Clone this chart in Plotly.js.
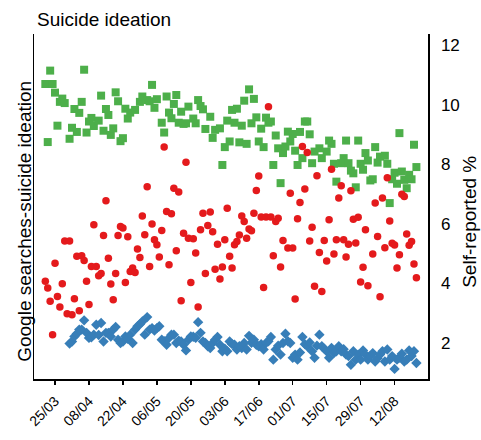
<!DOCTYPE html>
<html>
<head>
<meta charset="utf-8">
<script src="https://cdn.plot.ly/plotly-3.0.1.min.js"></script>
<style>html,body{margin:0;padding:0;background:#fff;}#chart{width:481px;height:440px;}</style>
</head>
<body>
<div id="chart"></div>
<script>
// Day offsets relative to 25/03/2020
const greenDays = [-4,-3,-2,-1,0,1,2,3,4,6,7,8,9,10,11,12,13,14,15,16,18,19,20,21,22,23,24,25,26,27,28,29,30,31,33,35,36,38,39,40,41,42,44,45,46,47,48,49,50,51,52,53,54,55,57,58,59,60,61,62,64,65,66,68,69,70,71,72,73,74,75,76,77,78,79,80,81,82,83,84,85,86,87,88,89,90,91,92,93,94,95,96,97,98,99,100,101,102,103,104,105,106,107,109,110,112,113,114,115,116,118,119,120,121,122,123,124,125,126,127,128,129,130,131,132,133,134,136,137,138,139,140,141,142,143,144,145,146,147,148,149];
const greenVals = [10.69,8.74,11.14,10.69,10.40,9.29,10.09,10.20,10.05,8.85,9.22,9.85,9.08,9.72,10.09,11.17,9.06,9.43,9.55,9.28,9.46,10.30,9.12,9.85,9.65,8.98,9.20,10.41,10.11,8.77,8.87,9.86,9.53,9.73,9.82,10.09,10.27,10.15,10.11,10.66,9.89,10.18,9.39,9.06,10.27,9.73,9.54,10.02,10.32,9.39,9.76,9.35,9.37,9.93,9.53,9.37,10.15,9.95,9.84,9.18,9.59,8.88,9.15,9.20,7.97,8.57,9.46,8.76,9.82,9.39,9.86,8.73,9.29,10.13,8.68,10.51,9.37,10.19,9.57,8.76,9.19,8.57,9.56,9.39,9.43,7.97,8.96,8.53,7.36,8.37,8.59,9.09,8.76,9.01,8.45,7.97,9.08,8.20,9.43,9.43,9.00,8.03,8.42,8.53,8.20,8.42,8.79,8.68,8.01,7.41,8.03,8.20,8.79,8.03,7.78,7.69,7.22,8.79,8.01,7.81,8.37,8.12,7.45,7.49,8.57,8.05,8.25,8.28,8.01,6.69,7.49,7.71,7.34,9.04,7.75,7.47,7.19,7.64,7.49,8.65,7.90];

const redDays = [-4,-3,-2,-1,0,1,2,3,4,5,6,7,8,9,10,11,12,13,14,15,16,17,18,19,20,21,22,23,24,25,26,27,28,29,30,31,32,33,34,35,36,37,38,39,40,41,42,43,44,45,46,47,48,49,50,51,52,53,54,55,56,57,58,59,60,61,62,63,64,65,66,67,68,69,70,71,72,73,74,75,76,77,78,79,80,81,82,83,84,85,86,87,88,89,90,91,92,93,94,96,97,98,99,100,101,102,103,104,105,106,107,108,109,110,111,112,113,114,115,116,117,118,119,120,121,122,123,124,125,126,127,128,129,131,132,133,134,135,136,137,138,139,140,141,142,143,144,145,146,147,148,149];
const redVals = [4.06,3.84,3.39,2.27,4.67,3.55,3.20,3.98,5.42,2.97,5.42,2.94,3.48,4.90,3.07,4.92,4.76,4.06,3.28,4.56,5.96,4.56,4.25,4.32,5.60,6.77,4.84,3.97,3.44,4.32,5.60,5.90,5.85,4.02,5.56,4.39,4.51,4.36,5.15,4.86,6.26,5.63,7.24,4.56,5.99,5.46,5.29,4.88,5.77,8.57,6.41,4.62,6.33,7.19,5.09,7.06,3.41,5.68,8.06,5.51,4.02,5.49,5.01,3.20,5.79,6.35,4.32,5.94,6.39,5.73,4.47,5.31,4.14,4.54,5.46,6.52,4.90,4.51,5.29,5.40,5.62,6.26,6.07,5.51,5.82,5.76,6.35,7.11,7.60,6.22,3.85,6.22,9.93,6.22,4.92,6.07,6.18,4.54,5.43,5.18,7.02,5.18,3.47,6.16,6.71,8.59,7.16,8.39,5.42,5.88,3.90,7.61,5.03,3.72,5.43,4.74,6.13,7.83,4.98,5.46,6.86,7.27,5.46,4.88,5.31,7.10,6.15,5.35,6.21,4.04,4.53,5.79,3.91,4.98,6.69,5.57,3.54,6.86,5.19,7.54,6.09,5.34,5.28,4.51,4.95,6.99,6.91,5.65,5.27,5.40,4.64,4.18];

const blueDays = [6,7,8,9,10,11,12,13,14,15,16,17,18,19,20,21,22,23,24,25,26,27,28,29,30,31,32,33,34,35,36,37,38,39,40,41,42,43,44,45,46,47,48,49,50,51,52,53,54,55,56,57,58,59,60,61,62,63,64,65,66,67,68,69,70,71,72,73,74,75,76,77,78,79,80,81,82,83,84,85,86,87,88,89,90,91,92,93,94,95,96,97,98,99,100,101,102,103,104,105,106,107,108,109,110,111,112,113,114,115,116,117,118,119,120,121,122,123,124,125,126,127,128,129,130,131,132,133,134,135,136,137,138,139,140,141,142,143,144,145,146,147,148,149];
const blueVals = [1.97,2.04,2.21,2.30,2.44,2.44,2.75,2.33,2.16,2.18,2.27,2.60,2.26,2.66,2.04,2.33,2.33,2.21,2.44,2.53,2.10,1.99,2.04,2.21,2.13,2.27,1.99,2.44,2.55,2.62,2.71,2.27,2.86,2.44,2.49,2.41,2.49,2.55,2.10,2.05,1.93,2.16,2.27,2.27,1.99,2.07,2.04,1.93,1.74,2.10,2.21,2.20,2.16,2.69,2.33,2.04,1.99,1.88,1.82,1.99,2.10,2.19,1.93,1.71,1.80,1.71,2.04,1.95,1.93,1.77,1.88,1.82,1.99,1.77,2.23,2.00,2.10,1.93,1.88,1.95,1.77,1.99,2.05,2.19,1.43,1.77,1.90,1.60,1.99,2.30,2.05,1.99,1.49,1.60,1.43,1.67,2.19,1.95,1.88,2.01,1.71,1.49,1.90,2.27,1.88,1.80,1.71,1.49,1.82,1.65,1.71,1.88,1.71,1.78,1.60,1.55,1.26,1.71,1.43,1.60,1.43,1.74,1.60,1.43,1.55,1.65,1.37,1.48,1.60,1.71,1.37,1.77,1.43,1.55,1.12,1.43,1.50,1.63,1.37,1.43,1.74,1.55,1.71,1.32];

const tickDates = ['2020-03-25','2020-04-08','2020-04-22','2020-05-06','2020-05-20','2020-06-03','2020-06-17','2020-07-01','2020-07-15','2020-07-29','2020-08-12'];
const tickLabels = ['25/03','08/04','22/04','06/05','20/05','03/06','17/06','01/07','15/07','29/07','12/08'];
const rightTicks = [2,4,6,8,10,12];
const leftTitle = 'Google searches-suicide ideation';
const rightTitle = 'Self-reported %';

function dayToDate(d){
  return new Date(Date.UTC(2020,2,25) + d*86400000).toISOString().slice(0,10);
}

const FONT = 'Liberation Sans, Arial, Helvetica, sans-serif';

const traces = [
  {x: greenDays.map(dayToDate), y: greenVals, type:'scatter', mode:'markers', yaxis:'y',
   marker:{symbol:'square', size:8, color:'#4DAF4A'}, hoverinfo:'skip'},
  {x: blueDays.map(dayToDate), y: blueVals, type:'scatter', mode:'markers', yaxis:'y',
   marker:{symbol:'diamond', size:8, color:'#377EB8'}, hoverinfo:'skip'},
  {x: redDays.map(dayToDate), y: redVals, type:'scatter', mode:'markers', yaxis:'y2',
   marker:{symbol:'circle', size:7.5, color:'#E41A1C'}, hoverinfo:'skip'}
];

const yRange = [0.78, 12.37];

const layout = {
  width:481, height:440,
  margin:{l:34, r:53, t:34, b:61, pad:0},
  paper_bgcolor:'#fff', plot_bgcolor:'#fff',
  showlegend:false,
  font:{family:FONT, color:'#000'},
  title:{text:'Suicide ideation', font:{size:19, family:FONT, color:'#000'},
         x:37/481, xref:'container', xanchor:'left', y:1-19/440, yref:'container', yanchor:'middle'},
  xaxis:{type:'date', range:['2020-03-16 08:00','2020-08-25 18:45'],
         tickmode:'array', tickvals:tickDates, ticktext:tickLabels, tickangle:-45,
         ticks:'outside', ticklen:4, tickwidth:1.5, tickcolor:'#000', ticklabelstandoff:3,
         showline:true, linecolor:'#000', linewidth:1.5, showgrid:false, zeroline:false,
         tickfont:{size:14, color:'#000'}},
  yaxis:{range:yRange, showline:true, linecolor:'#000', linewidth:1.5, showgrid:false, zeroline:false,
         showticklabels:false, ticks:''},
  yaxis2:{range:yRange, overlaying:'y', side:'right', anchor:'x',
          showline:true, linecolor:'#000', linewidth:1.5, showgrid:false, zeroline:false,
          tickmode:'array', tickvals:rightTicks, ticks:'', ticklabelstandoff:8,
          tickfont:{size:17, color:'#000'}},
  annotations:[
    {text:leftTitle, textangle:-90, xref:'paper', yref:'paper', x:0, y:0.4556,
     xshift:-9, xanchor:'center', yanchor:'middle', showarrow:false,
     font:{size:19, color:'#000', family:FONT}},
    {text:rightTitle, textangle:-90, xref:'paper', yref:'paper', x:1, y:0.4556,
     xshift:42, xanchor:'center', yanchor:'middle', showarrow:false,
     font:{size:19, color:'#000', family:FONT}}
  ]
};

Plotly.newPlot('chart', traces, layout, {staticPlot:true, displayModeBar:false});
</script>
</body>
</html>
